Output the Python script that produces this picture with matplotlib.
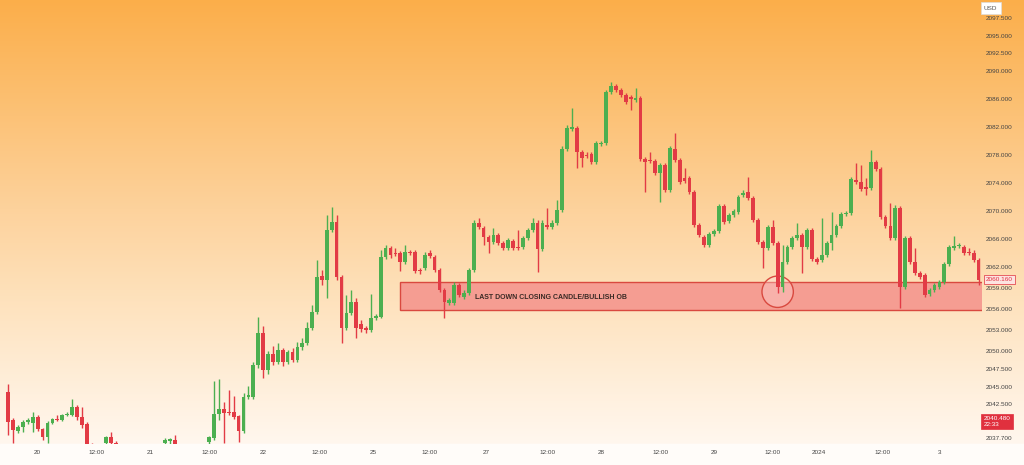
import numpy as np
import matplotlib
matplotlib.use("Agg")
from matplotlib import pyplot as plt
from matplotlib import transforms
from matplotlib.patches import Rectangle, Ellipse
from matplotlib.colors import LinearSegmentedColormap

plt.rcParams["font.family"] = ["Liberation Sans", "DejaVu Sans"]

# hourly XAUUSD candles (index = bar number)
opens = [
    2044.2, 2040.2, 2038.7, 2039.2, 2040.0, 2039.8, 2040.7, 2039.0, 2037.8, 2039.8,
    2040.4, 2040.2, 2041.0, 2041.0, 2042.1, 2040.7, 2039.7, 2036.7, 2035.5, 2035.8,
    2037.0, 2037.8, 2037.0, 2035.8, 2034.6, 2035.2, 2034.0, 2033.3, 2034.1, 2034.9,
    2035.6, 2035.1, 2037.0, 2037.3, 2037.4, 2036.6, 2035.9, 2035.0, 2035.7, 2035.1,
    2036.0, 2037.1, 2037.7, 2041.1, 2041.8, 2041.4, 2041.4, 2040.8, 2038.7, 2043.5,
    2043.5, 2048.1, 2052.6, 2047.4, 2049.6, 2048.5, 2050.2, 2048.5, 2049.9, 2048.8,
    2050.6, 2051.2, 2053.3, 2055.6, 2060.7, 2060.2, 2067.3, 2068.4, 2060.6, 2053.3,
    2055.5, 2057.0, 2053.9, 2053.3, 2053.1, 2054.8, 2054.9, 2063.5, 2064.7, 2064.0,
    2064.0, 2062.7, 2064.2, 2064.2, 2061.6, 2061.9, 2064.0, 2063.5, 2061.6, 2058.8,
    2056.9, 2056.9, 2059.5, 2057.8, 2058.3, 2061.6, 2068.3, 2067.6, 2066.3, 2065.6,
    2066.6, 2065.4, 2064.7, 2065.7, 2064.9, 2064.9, 2066.2, 2067.3, 2068.3, 2064.6,
    2068.0, 2067.7, 2068.3, 2070.1, 2078.8, 2081.7, 2081.8, 2078.4, 2078.0, 2078.1,
    2077.0, 2079.5, 2079.7, 2086.9, 2087.8, 2087.2, 2086.5, 2086.2, 2085.8, 2086.1,
    2077.4, 2077.3, 2077.1, 2075.4, 2076.6, 2073.0, 2078.8, 2077.3, 2074.7, 2074.7,
    2072.7, 2068.0, 2066.3, 2065.2, 2066.7, 2067.2, 2070.7, 2068.6, 2069.4, 2069.9,
    2072.3, 2072.7, 2071.9, 2068.7, 2065.6, 2064.7, 2067.7, 2065.4, 2059.2, 2062.7,
    2064.9, 2066.2, 2066.6, 2064.9, 2067.3, 2063.2, 2063.0, 2063.7, 2065.4, 2066.6,
    2067.9, 2069.6, 2069.7, 2074.4, 2074.1, 2073.4, 2073.3, 2077.0, 2076.0, 2069.2,
    2067.9, 2066.2, 2070.4, 2059.2, 2066.2, 2062.7, 2061.2, 2060.9, 2058.2, 2058.8,
    2059.2, 2059.9, 2062.5, 2064.7, 2065.0, 2064.9, 2064.2, 2064.0, 2063.0,
]
highs = [
    2045.4, 2040.5, 2039.5, 2040.2, 2040.5, 2041.4, 2040.9, 2039.1, 2040.1, 2040.5,
    2041.0, 2041.1, 2041.3, 2043.2, 2042.4, 2042.1, 2040.0, 2036.9, 2036.3, 2036.6,
    2038.0, 2038.5, 2037.3, 2036.1, 2035.6, 2035.5, 2034.4, 2034.5, 2035.3, 2036.0,
    2036.0, 2036.5, 2037.6, 2037.7, 2038.1, 2036.7, 2036.2, 2036.0, 2036.0, 2036.3,
    2036.7, 2038.0, 2045.8, 2046.0, 2042.8, 2044.5, 2043.7, 2041.0, 2044.1, 2045.1,
    2048.5, 2054.9, 2053.6, 2050.0, 2050.8, 2051.2, 2050.5, 2050.2, 2050.5, 2051.4,
    2051.9, 2054.2, 2056.6, 2063.0, 2061.6, 2069.4, 2070.6, 2069.4, 2060.9, 2058.0,
    2058.8, 2057.6, 2054.5, 2053.6, 2058.2, 2055.3, 2064.4, 2065.1, 2065.0, 2064.7,
    2064.3, 2065.1, 2064.4, 2064.4, 2061.9, 2064.2, 2064.4, 2063.7, 2061.9, 2059.1,
    2057.6, 2059.9, 2059.8, 2058.8, 2061.9, 2068.7, 2069.0, 2067.9, 2066.6, 2067.6,
    2066.9, 2065.7, 2066.2, 2066.0, 2067.3, 2066.4, 2067.6, 2069.0, 2068.7, 2068.7,
    2070.4, 2068.7, 2071.6, 2079.3, 2082.3, 2084.7, 2082.1, 2078.7, 2078.4, 2078.4,
    2080.0, 2080.0, 2087.2, 2088.4, 2088.1, 2087.5, 2086.8, 2086.5, 2087.5, 2086.4,
    2077.7, 2078.4, 2077.4, 2076.8, 2076.8, 2079.3, 2081.1, 2077.6, 2076.1, 2075.0,
    2073.0, 2068.3, 2066.6, 2067.0, 2067.5, 2071.0, 2071.0, 2069.7, 2070.3, 2072.3,
    2073.0, 2074.9, 2072.1, 2069.0, 2065.9, 2068.0, 2068.7, 2065.7, 2065.2, 2065.2,
    2066.4, 2068.3, 2066.9, 2067.6, 2067.6, 2063.5, 2069.0, 2065.7, 2069.9, 2068.1,
    2069.9, 2070.0, 2074.9, 2076.8, 2076.6, 2074.7, 2078.7, 2077.3, 2076.3, 2069.4,
    2071.1, 2070.9, 2070.7, 2066.4, 2066.4, 2064.7, 2061.5, 2061.2, 2059.1, 2059.8,
    2060.2, 2062.7, 2065.2, 2066.4, 2065.4, 2065.2, 2064.7, 2064.4, 2063.3,
]
lows = [
    2038.1, 2037.0, 2038.4, 2038.5, 2039.7, 2038.5, 2038.7, 2037.4, 2037.0, 2039.7,
    2040.1, 2040.1, 2040.8, 2040.8, 2040.2, 2039.1, 2036.3, 2035.0, 2035.2, 2035.5,
    2036.5, 2036.7, 2035.4, 2034.2, 2034.3, 2033.6, 2032.8, 2033.0, 2033.8, 2034.6,
    2034.8, 2034.9, 2036.6, 2036.8, 2036.0, 2035.5, 2034.6, 2034.7, 2034.8, 2034.9,
    2035.7, 2036.5, 2037.4, 2040.2, 2037.0, 2041.0, 2040.4, 2037.1, 2038.4, 2043.2,
    2043.2, 2047.6, 2046.2, 2046.8, 2048.1, 2048.2, 2047.9, 2048.2, 2048.5, 2048.5,
    2050.2, 2050.9, 2053.1, 2055.3, 2059.5, 2057.6, 2067.0, 2060.2, 2051.2, 2053.1,
    2055.2, 2051.9, 2052.8, 2052.6, 2052.8, 2054.5, 2054.8, 2063.2, 2063.3, 2063.6,
    2061.5, 2062.5, 2063.7, 2061.2, 2061.0, 2061.6, 2063.3, 2061.3, 2058.5, 2054.8,
    2056.6, 2056.6, 2057.8, 2057.5, 2058.1, 2061.3, 2067.4, 2065.2, 2064.0, 2065.3,
    2065.2, 2064.4, 2064.4, 2064.4, 2064.4, 2064.6, 2065.9, 2067.0, 2061.3, 2064.3,
    2067.4, 2067.4, 2068.0, 2069.9, 2078.5, 2081.4, 2076.1, 2076.3, 2077.6, 2076.7,
    2076.7, 2079.3, 2079.4, 2086.7, 2086.9, 2086.2, 2085.2, 2084.4, 2085.5, 2077.1,
    2072.7, 2076.8, 2075.1, 2071.3, 2072.7, 2072.7, 2077.0, 2073.8, 2074.0, 2072.4,
    2067.7, 2066.3, 2064.9, 2064.9, 2066.4, 2066.9, 2068.1, 2068.3, 2069.1, 2069.6,
    2072.0, 2071.6, 2068.4, 2065.3, 2061.9, 2064.4, 2065.2, 2058.3, 2058.5, 2062.5,
    2064.6, 2065.9, 2061.2, 2064.6, 2062.9, 2062.5, 2062.7, 2063.5, 2064.4, 2066.3,
    2067.6, 2069.3, 2069.4, 2073.8, 2072.9, 2072.3, 2073.0, 2075.7, 2068.9, 2067.6,
    2065.9, 2065.9, 2056.2, 2058.9, 2062.5, 2060.9, 2060.3, 2057.8, 2057.9, 2058.5,
    2058.9, 2059.6, 2062.2, 2064.4, 2064.7, 2063.8, 2063.8, 2062.7, 2059.5,
]
closes = [
    2040.0, 2038.8, 2039.2, 2040.0, 2040.2, 2040.7, 2039.0, 2037.8, 2039.8, 2040.4,
    2040.2, 2041.0, 2041.1, 2042.1, 2040.7, 2039.5, 2036.7, 2035.5, 2036.0, 2036.5,
    2037.8, 2037.0, 2035.8, 2034.6, 2035.2, 2034.0, 2033.3, 2034.1, 2034.9, 2035.6,
    2035.1, 2036.4, 2037.4, 2037.5, 2036.6, 2035.9, 2035.0, 2035.7, 2035.1, 2036.0,
    2036.6, 2037.8, 2041.1, 2041.8, 2041.2, 2041.2, 2040.7, 2038.7, 2043.5, 2043.8,
    2048.1, 2052.6, 2047.4, 2049.6, 2048.5, 2050.2, 2048.5, 2049.9, 2048.8, 2050.6,
    2051.2, 2053.3, 2055.6, 2060.6, 2060.2, 2067.3, 2068.4, 2060.6, 2053.3, 2055.5,
    2057.0, 2053.3, 2053.2, 2053.1, 2054.8, 2055.1, 2063.5, 2064.7, 2063.7, 2063.9,
    2062.7, 2064.2, 2064.0, 2061.5, 2061.5, 2063.7, 2063.6, 2061.6, 2058.8, 2057.0,
    2057.3, 2059.5, 2058.1, 2058.3, 2061.6, 2068.3, 2067.7, 2066.3, 2065.6, 2066.6,
    2065.4, 2064.7, 2065.9, 2064.7, 2064.7, 2066.2, 2067.3, 2068.3, 2064.6, 2068.3,
    2067.7, 2068.3, 2070.1, 2078.8, 2081.8, 2082.0, 2078.4, 2077.6, 2077.8, 2077.0,
    2079.7, 2079.7, 2086.9, 2087.8, 2087.2, 2086.5, 2085.5, 2085.9, 2086.1, 2077.4,
    2077.0, 2077.1, 2075.4, 2076.6, 2073.0, 2079.0, 2077.3, 2074.1, 2074.3, 2072.7,
    2068.0, 2066.6, 2065.2, 2066.7, 2067.2, 2070.7, 2068.4, 2069.4, 2070.0, 2072.0,
    2072.6, 2071.9, 2068.7, 2065.6, 2064.7, 2067.7, 2065.4, 2059.2, 2062.7, 2064.9,
    2066.2, 2066.6, 2064.9, 2067.3, 2063.2, 2062.7, 2063.7, 2065.4, 2066.6, 2067.9,
    2069.6, 2069.7, 2074.6, 2074.1, 2073.1, 2073.1, 2077.0, 2076.0, 2069.2, 2067.9,
    2066.2, 2070.4, 2059.2, 2066.2, 2062.7, 2061.2, 2060.6, 2058.0, 2058.8, 2059.5,
    2059.9, 2062.5, 2064.9, 2065.0, 2065.1, 2064.0, 2064.0, 2063.0, 2060.2,
]

xtick_pos = [6, 18, 29, 41, 52, 63.5, 74.5, 86, 97.5, 110, 121, 133, 144, 156, 165.5, 178.5, 190]
xtick_labels = ["20", "12:00", "21", "12:00", "22", "12:00", "25", "12:00", "27",
                "12:00", "28", "12:00", "29", "12:00", "2024", "12:00", "3"]
ytick_vals = [2097.5, 2095.0, 2092.5, 2090.0, 2086.0, 2082.0, 2078.0, 2074.0, 2070.0,
              2066.0, 2062.0, 2059.0, 2056.0, 2053.0, 2050.0, 2047.5, 2045.0, 2042.5, 2037.7]

# order block zone + highlight
zone_start = 79.9
zone_low, zone_high = 2055.9, 2059.9
circle_center = (157, 2058.5)

GREEN = "#4caf50"
RED = "#e23b45"

fig = plt.figure(figsize=(10.24, 4.65), dpi=100)

# gradient background
bg = fig.add_axes([0, 0, 1, 1], zorder=0)
cmap = LinearSegmentedColormap.from_list("bg", [
    (0.0, "#fbae4a"), (0.25, "#fcc277"), (0.45, "#fdd29c"),
    (0.65, "#fee2bd"), (0.85, "#fff0de"), (1.0, "#fffaf5")])
grad = np.linspace(0, 1, 256).reshape(-1, 1)
bg.imshow(grad, cmap=cmap, aspect="auto", extent=[0, 1, 0, 1], origin="upper")
bg.axhspan(0, 21 / 465, color="#fffcf9")
bg.set_xlim(0, 1)
bg.set_ylim(0, 1)
bg.axis("off")

ax = fig.add_axes([0, 21 / 465, 982 / 1024, 444 / 465], zorder=1)
ax.set_facecolor("none")

x = np.arange(len(opens))
o = np.array(opens)
c = np.array(closes)
cols = [GREEN if cc >= oo else RED for oo, cc in zip(o, c)]
bottoms = np.minimum(o, c)
heights = np.maximum(np.abs(c - o), 0.15)

ax.vlines(x, lows, highs, colors=cols, linewidth=1.0, zorder=3)
ax.bar(x, heights, bottom=bottoms, width=0.76, color=cols, linewidth=0, zorder=4)

ax.add_patch(Rectangle((zone_start, zone_low), 300, zone_high - zone_low,
                       facecolor="#f59d92", edgecolor="#d9493f", lw=1.0, zorder=2))
ax.add_patch(Ellipse(circle_center, 6.4, 4.47, facecolor=(1, 0.85, 0.85, 0.35),
                     edgecolor="#d9493f", lw=1.0, zorder=2.5))
ax.text(95.2, 2057.7, "LAST DOWN CLOSING CANDLE/BULLISH OB", fontsize=5.0,
        fontweight="bold", color="#3a2a25", va="center", ha="left", zorder=5)

ax.set_xlim(-8.3 / 4.9, 198.7)
ax.set_ylim(2036.81, 2100.06)

ax.yaxis.tick_right()
ax.set_yticks(ytick_vals)
ax.set_yticklabels([f"{v:.3f}" for v in ytick_vals])
ax.set_xticks(xtick_pos)
ax.set_xticklabels(xtick_labels)
ax.tick_params(axis="both", length=0, labelsize=4.6, labelcolor="#444444")
ax.tick_params(axis="y", pad=3)
ax.tick_params(axis="x", pad=4)
for s in ax.spines.values():
    s.set_visible(False)

# price labels on the axis
trans = transforms.blended_transform_factory(ax.transAxes, ax.transData)
ax.text(1.004, 2060.2, "2060.160", transform=trans, fontsize=4.6, color="#e0303e",
        va="center", ha="left", clip_on=False, zorder=6,
        bbox=dict(boxstyle="square,pad=0.3", fc="#fde3e0", ec="#e0303e", lw=0.5))
ax.text(1.002, 2040.0, "2040.480\n22:33", transform=trans, fontsize=4.6, color="white",
        va="center", ha="left", clip_on=False, zorder=6, linespacing=1.15,
        bbox=dict(boxstyle="square,pad=0.4", fc="#e0303e", ec="#e0303e", lw=0.5))
fig.text(984 / 1024, 1 - 8 / 465, "USD", fontsize=4.6, color="#555555", va="center",
         ha="left", zorder=6,
         bbox=dict(boxstyle="square,pad=0.5", fc="white", ec="#dddddd", lw=0.5))

fig.savefig("out.png", dpi=100)
